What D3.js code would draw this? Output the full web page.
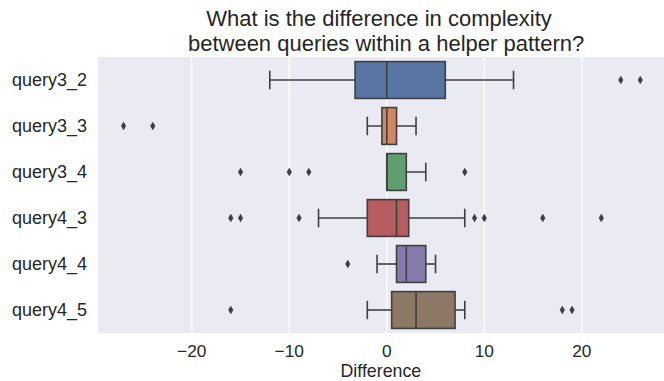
<!DOCTYPE html>
<html>
<head>
<meta charset="utf-8">
<script src="https://cdn.jsdelivr.net/npm/d3@7"></script>
<style>
html,body{margin:0;padding:0;background:#fff;}
svg{display:block;font-family:"Liberation Sans",Arial,sans-serif;}
</style>
</head>
<body>
<svg id="chart" width="664" height="381"></svg>
<script>
const categories = ["query3_2","query3_3","query3_4","query4_3","query4_4","query4_5"];
const whiskerLow = [-12, -2, 0, -7, -1, -2];
const q1Values = [-3.25, -0.5, 0, -2, 1, 0.5];
const medians = [0, 0, 0, 1, 2, 3];
const q3Values = [6, 1, 2, 2.25, 4, 7];
const whiskerHigh = [13, 3, 4, 8, 5, 8];
const outliers = [
  [24, 26],
  [-27, -24],
  [-15, -10, -8, 8],
  [-16, -15, -9, 9, 10, 16, 22],
  [-4],
  [-16, 18, 19]
];
const xTicks = [-20, -10, 0, 10, 20];
const colors = ["#5875a4","#cc8963","#5f9e6e","#b55d60","#857aab","#8d7866"];
const titleLines = ["What is the difference in complexity", " between queries within a helper pattern?"];
const xLabel = "Difference";

const W = 664, H = 381;
const m = {left: 97.7, right: 664, top: 57, bottom: 333};
const svg = d3.select("#chart");

const x = d3.scaleLinear().domain([-29.65, 28.65]).range([m.left, m.left + (28.65 + 29.65) * 9.75]);
const y = d3.scaleBand().domain(categories).range([m.top, m.bottom]).paddingInner(0).paddingOuter(0);

svg.append("defs").append("clipPath").attr("id","clip")
  .append("rect").attr("x", m.left).attr("y", m.top).attr("width", m.right - m.left).attr("height", m.bottom - m.top);

svg.append("rect").attr("x", m.left).attr("y", m.top)
  .attr("width", m.right - m.left).attr("height", m.bottom - m.top).attr("fill", "#eaeaf2");

const g = svg.append("g").attr("clip-path","url(#clip)");

g.selectAll("line.grid").data(xTicks).enter().append("line")
  .attr("x1", d => x(d)).attr("x2", d => x(d))
  .attr("y1", m.top).attr("y2", m.bottom)
  .attr("stroke", "#fff").attr("stroke-width", 1.2);

const lineColor = "#3f3f3f";
const bw = y.bandwidth() * 0.8;
const capW = bw / 2;
const lw = 1.6;

const rows = categories.map((c, i) => ({
  c, i, lo: whiskerLow[i], q1: q1Values[i], med: medians[i], q3: q3Values[i], hi: whiskerHigh[i], out: outliers[i]
}));

const rg = g.selectAll("g.row").data(rows).enter().append("g")
  .attr("transform", d => `translate(0,${y(d.c) + y.bandwidth() / 2})`);

rg.append("line").attr("x1", d => x(d.lo)).attr("x2", d => x(d.q1)).attr("y1", 0).attr("y2", 0)
  .attr("stroke", lineColor).attr("stroke-width", lw);
rg.append("line").attr("x1", d => x(d.q3)).attr("x2", d => x(d.hi)).attr("y1", 0).attr("y2", 0)
  .attr("stroke", lineColor).attr("stroke-width", lw);
rg.append("line").attr("x1", d => x(d.lo)).attr("x2", d => x(d.lo)).attr("y1", -capW/2).attr("y2", capW/2)
  .attr("stroke", lineColor).attr("stroke-width", lw);
rg.append("line").attr("x1", d => x(d.hi)).attr("x2", d => x(d.hi)).attr("y1", -capW/2).attr("y2", capW/2)
  .attr("stroke", lineColor).attr("stroke-width", lw);
rg.append("rect").attr("x", d => x(d.q1)).attr("width", d => x(d.q3) - x(d.q1))
  .attr("y", -bw/2).attr("height", bw)
  .attr("fill", d => colors[d.i]).attr("stroke", lineColor).attr("stroke-width", lw);
rg.append("line").attr("x1", d => x(d.med)).attr("x2", d => x(d.med)).attr("y1", -bw/2).attr("y2", bw/2)
  .attr("stroke", lineColor).attr("stroke-width", lw);
const dh = 4.3, dw = 2.6;
rg.selectAll("path.out").data(d => d.out).enter().append("path")
  .attr("d", v => `M${x(v)},${-dh} L${x(v)+dw},0 L${x(v)},${dh} L${x(v)-dw},0 Z`)
  .attr("fill", lineColor);

svg.selectAll("text.xt").data(xTicks).enter().append("text")
  .attr("x", d => x(d)).attr("y", 357).attr("text-anchor", "middle")
  .attr("font-size", 17.3).attr("fill", "#262626")
  .text(d => d < 0 ? "\u2212" + Math.abs(d) : String(d));

svg.selectAll("text.yt").data(categories).enter().append("text")
  .attr("x", 87).attr("y", d => y(d) + y.bandwidth() / 2 + 6)
  .attr("text-anchor", "end").attr("font-size", 18).attr("fill", "#262626")
  .text(d => d);

svg.append("text").attr("x", (m.left + m.right) / 2).attr("y", 377)
  .attr("text-anchor", "middle").attr("font-size", 17.8).attr("fill", "#262626").text(xLabel);

svg.append("text").attr("x", 379).attr("y", 26).attr("text-anchor", "middle")
  .attr("font-size", 22).attr("fill", "#262626").text(titleLines[0]);
svg.append("text").attr("x", 383).attr("y", 51).attr("text-anchor", "middle")
  .attr("font-size", 22).attr("fill", "#262626").style("white-space", "pre").text(titleLines[1]);
</script>
</body>
</html>
